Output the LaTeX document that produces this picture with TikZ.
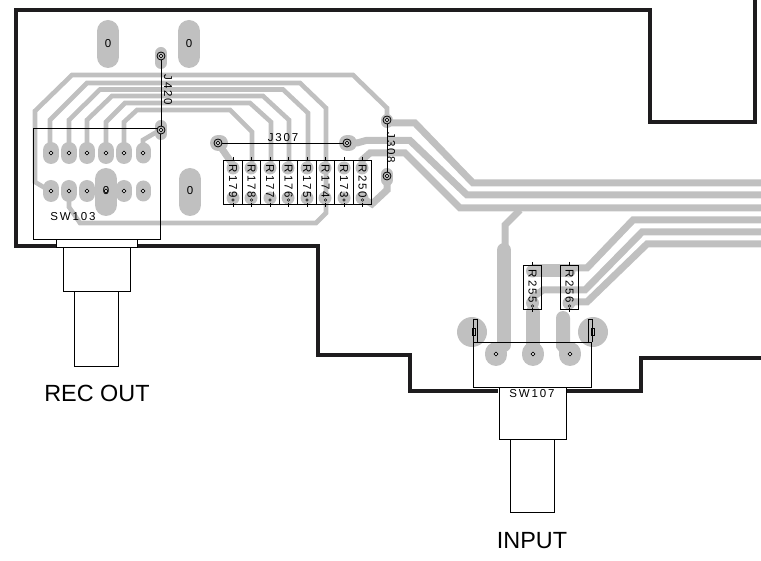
\documentclass[tikz,border=0pt]{standalone}
\usepackage{fontspec}
\setmainfont{Liberation Sans}
\newfontfamily\pcbfont[LetterSpace=16]{Liberation Sans}
\definecolor{cu}{RGB}{192,192,192}
\definecolor{ink}{RGB}{30,28,30}
\tikzset{
  track/.style={draw=cu,line width=7pt,line join=miter,line cap=butt},
  fine/.style={draw=cu,line width=4.6pt,line join=miter,line cap=butt},
  wide/.style={draw=cu,line width=14pt,line cap=round},
  oval/.style={draw=cu,line width=#1,line cap=round},
  outline/.style={draw=ink,line width=3.6pt,line join=miter},
  part/.style={draw=black,line width=0.8pt,fill=none},
  hole/.style={draw=black,line width=0.7pt,fill=white},
  silk/.style={inner sep=0pt,text=black,font=\pcbfont\fontsize{11.5}{12}\selectfont},
  big/.style={inner sep=0pt,text=black,font=\fontsize{23.4}{26}\selectfont}
}
\begin{document}
\begin{tikzpicture}[x=1pt,y=-1pt]
\useasboundingbox (0,0) rectangle (761,561);
% ---- copper tracks
\draw[fine] (387,120) -- (387,108) -- (353,75) -- (72,75) -- (35,111) -- (35,182) -- (50,191);
\draw[fine] (50,152) -- (50,120) -- (87,83) -- (300,83) -- (326,108) -- (326,213) -- (316,223) -- (80,223) -- (69,207) -- (69,191);
\draw[fine] (69,152) -- (69,120) -- (100,89.5) -- (283,89.5) -- (308,113) -- (308,165);
\draw[fine] (87,152) -- (87,120) -- (112,96) -- (263,96) -- (289,120) -- (289,165);
\draw[fine] (106,152) -- (106,122) -- (125,103) -- (250,103) -- (271,122) -- (271,165);
\draw[fine] (124,152) -- (124,122) -- (137,110) -- (230,110) -- (252,132) -- (252,165);
\draw[fine] (143,152) -- (143,140) -- (160,130);
\draw[track] (218,143) -- (233,165);
\draw[track] (347,143) -- (357,143) -- (366,140.5) -- (410,140.5) -- (467,195) -- (761,195);
\draw[track] (387,123) -- (415,123) -- (473,183) -- (761,183);
\draw[track] (362,165) -- (362,160) -- (370,153) -- (405,153) -- (460,208) -- (761,208);
\draw[track] (387,176) -- (387,190) -- (372,204) -- (362,198);
\draw[track] (520,210) -- (505,225) -- (505,250);
\draw[track] (533,268) -- (587,268) -- (633,220) -- (761,220);
\draw[track] (533,305) -- (533,297) -- (543,290) -- (585,290) -- (642,232) -- (761,232);
\draw[track] (569,302) -- (587,302) -- (647,244) -- (761,244);
\draw[wide] (504,250) -- (504,345);
\draw[wide] (533,312) -- (533,354);
\draw[wide] (563,318) -- (563,345) -- (570,354);
% ---- pads
\fill[cu] (472,332) circle (15);
\fill[cu] (593,332) circle (15);
\foreach \x in {496,533,570} \draw[oval=22pt] (\x,353) -- (\x,355);
\foreach \x in {51,69,87,106,124} {
  \draw[oval=16pt] (\x,150) -- (\x,156);
  \draw[oval=16pt] (\x,188) -- (\x,194);
}
\draw[oval=15pt] (143,150) -- (143,156);
\draw[oval=15pt] (143,188) -- (143,194);
\draw[oval=22pt] (106,179) -- (106,205);
\draw[oval=22pt] (108,31) -- (108,57);
\draw[oval=22pt] (189,31) -- (189,57);
\draw[oval=22pt] (190,179) -- (190,205);
\draw[oval=12pt] (161,53) -- (161,63);
\draw[oval=12pt] (161,126) -- (161,134);
\draw[oval=12pt] (387,120) -- (387,122);
\draw[oval=12pt] (387,174) -- (387,180);
\draw[oval=16pt] (218,143) -- (220,143);
\draw[oval=16pt] (347,143) -- (349,143);
\foreach \x in {233,251,270,288,307,325,344,362} {
  \fill[cu] (\x,168) circle (6.5);
  \fill[cu] (\x,198) circle (6.5);
}
\foreach \x in {532.5,569} {
  \fill[cu] (\x,271) circle (6.5);
  \fill[cu] (\x,303) circle (6.5);
}
\draw[cu,line width=13pt] (532.5,271) -- (569,271);
% ---- board outline
\draw[outline] (56,246) -- (16,246) -- (16,10) -- (650,10) -- (650,122) -- (755,122) -- (755,0);
\draw[outline] (137,246) -- (318,246) -- (318,355) -- (410,355) -- (410,391) -- (498,391);
\draw[outline] (566,391) -- (641,391) -- (641,358) -- (761,358);
\draw[ink,line width=1pt] (166.5,8) -- (166.5,12);
% ---- switch SW103
\draw[part] (33,128) rectangle (160,239);
\draw[part] (56,239) rectangle (137,247);
\draw[part] (63,247) rectangle (130,291);
\draw[part] (74,291) rectangle (118,366);
\draw[part] (161,56) -- (161,130);
% ---- connector J307 and J308
\draw[part] (218,143) -- (347,143);
\draw[part] (387,120) -- (387,176);
\foreach \x/\y in {161/56,161/130,218/143,347/143,387/120,387/176} {
  \draw[hole,line width=0.8pt,fill=cu] (\x,\y) circle (4);
  \draw[hole] (\x,\y) circle (1.8);
}
% ---- resistor bank
\foreach \x/\l in {233/R179,251.5/R178,270/R177,288.5/R176,307/R175,325.5/R174,344/R173,362.5/R250} {
  \draw[part] (\x-9.25,160) rectangle (\x+9.25,204);
  \draw[part] (\x,157) -- (\x,161);
  \draw[part] (\x,203) -- (\x,207);
  \draw[hole,line width=0.5pt] (\x,200) circle (1.3);
  \node[silk,rotate=-90] at (\x,181.5) {\l};
}
\foreach \x/\l in {532.5/R255,569.5/R256} {
  \draw[part] (\x-9.25,265) rectangle (\x+9.25,309);
  \draw[part] (\x,262) -- (\x,266);
  \draw[part] (\x,308) -- (\x,312);
  \draw[hole,line width=0.5pt] (\x,306) circle (1.3);
  \node[silk,rotate=-90] at (\x,286.5) {\l};
}
% ---- switch SW107
\draw[part] (473,342) rectangle (591,387);
\draw[part] (499,387) rectangle (566,439);
\draw[part] (510,439) rectangle (554,512);
\draw[part] (473,342) -- (473,319) -- (477,319) -- (477,342);
\draw[part] (588,342) -- (588,319) -- (592,319) -- (592,342);
\draw[part,line width=0.6pt] (472,328) rectangle (475,335);
\draw[part,line width=0.6pt] (591,328) rectangle (594,335);
% ---- drill holes
\foreach \x in {51,69,87,106,124,143} {
  \draw[hole] (\x,153) circle (1.9);
  \draw[hole] (\x,191) circle (1.9);
}
\foreach \x in {496,533,570} \draw[hole] (\x,354) circle (1.9);
% ---- labels
\foreach \x/\y in {108/44,189/44,190/191,106/191} \node[silk] at (\x,\y) {0};
\node[silk] at (73,217) {SW103};
\node[silk] at (532,394) {SW107};
\node[silk,rotate=-90] at (168,90) {J420};
\node[silk] at (283,138) {J307};
\node[silk,rotate=-90] at (391,148) {J308};
\node[big] at (97,393) {REC OUT};
\node[big] at (532,541) {INPUT};
\end{tikzpicture}
\end{document}
